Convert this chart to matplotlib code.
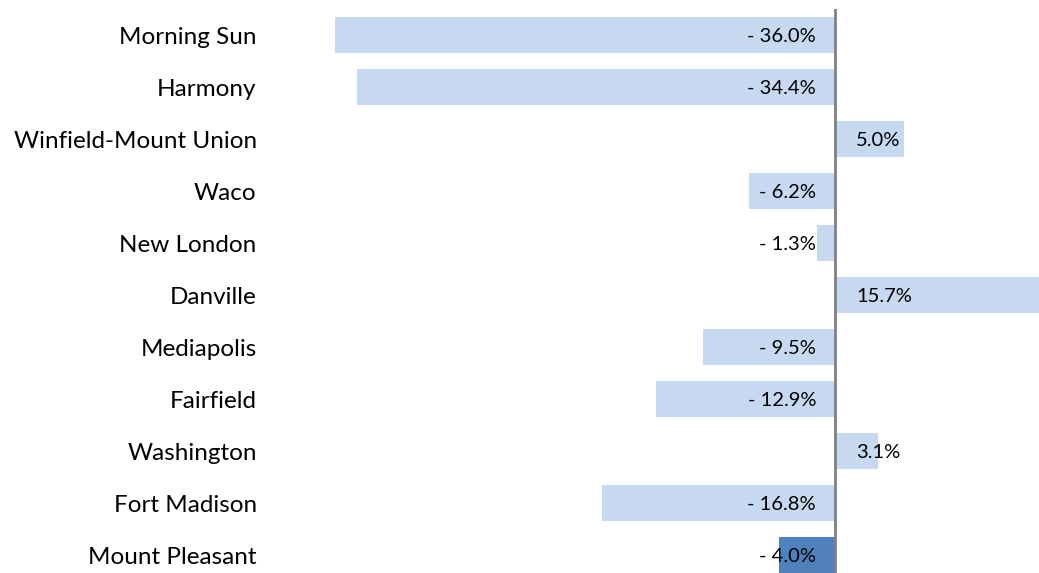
import matplotlib.pyplot as plt

plt.rcParams['font.family'] = ['Lato', 'DejaVu Sans']

towns = ['Morning Sun', 'Harmony', 'Winfield-Mount Union', 'Waco', 'New London',
         'Danville', 'Mediapolis', 'Fairfield', 'Washington', 'Fort Madison',
         'Mount Pleasant']
change = [-36.0, -34.4, 5.0, -6.2, -1.3, 15.7, -9.5, -12.9, 3.1, -16.8, -4.0]
highlight = 'Mount Pleasant'

light = '#C6D9F1'
dark = '#4F81BD'

W, H = 1039, 573
fig = plt.figure(figsize=(W / 100, H / 100), dpi=100)
# zero at x=835px, 13.89 px per percent point
ppu = 500 / 36.0
left_px, right_px = 265, 1070
ax = fig.add_axes([left_px / W, -8 / H, (right_px - left_px) / W, (572 + 8 - 9 + 1) / H])
ax.set_xlim(-(835 - left_px) / ppu, (right_px - 835) / ppu)
ax.set_ylim(len(towns) - 0.5, -0.5)

ypos = range(len(towns))
colors = [dark if t == highlight else light for t in towns]
ax.barh(ypos, change, height=0.68, color=colors, zorder=2)
ax.axvline(0, color='#808080', lw=2, zorder=3)

for y, v in zip(ypos, change):
    if v < 0:
        ax.annotate('- %.1f%%' % abs(v), (0, y), xytext=(-19, -1), textcoords='offset pixels',
                    ha='right', va='center', fontsize=14.5, color='black', zorder=4)
    else:
        ax.annotate('%.1f%%' % v, (0, y), xytext=(21, -1), textcoords='offset pixels',
                    ha='left', va='center', fontsize=14.5, color='black', zorder=4)

ax.set_yticks(list(ypos))
ax.set_yticklabels(towns, fontsize=17.5)
ax.tick_params(axis='y', length=0, pad=6)
ax.set_xticks([])
for s in ax.spines.values():
    s.set_visible(False)

fig.savefig('out.png', dpi=100)
